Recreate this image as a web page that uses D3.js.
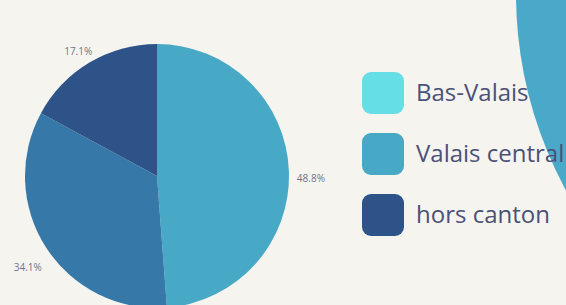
<!DOCTYPE html>
<html>
<head>
<meta charset="utf-8">
<script src="https://cdn.jsdelivr.net/npm/d3@7"></script>
<style>
  html, body { margin: 0; padding: 0; background: #f5f4ef; }
  svg { display: block; }
</style>
</head>
<body>
<svg id="chart" width="566" height="305"></svg>
<script>
// data
let sliceNames = ['Valais central', 'Bas-Valais', 'hors canton'];
let sliceValues = [48.8, 34.1, 17.1];
let sliceColors = ['#48a9c7', '#3679a9', '#2d5389'];

let legendNames = ['Bas-Valais', 'Valais central', 'hors canton'];
let legendColors = ['#66dee6', '#48a9c7', '#2d5389'];

let svg = d3.select('#chart');

// decorative circle top right
svg.append('circle')
    .attr('cx', 927)
    .attr('cy', -6)
    .attr('r', 411)
    .attr('fill', '#4aa9c8');

/*************************** PIE ***********************************/
let cx = 157, cy = 176, radius = 132;
let g = svg.append('g').attr('transform', `translate(${cx},${cy})`);

let pie = d3.pie().sort(null).value(d => d);
let arcs = pie(sliceValues);
let arc = d3.arc().innerRadius(0).outerRadius(radius);
let labelArc = d3.arc().innerRadius(154).outerRadius(154);

g.selectAll('path.slice')
    .data(arcs)
    .enter().append('path')
    .attr('class', 'slice')
    .attr('d', arc)
    .attr('fill', (d, i) => sliceColors[i]);

// labels sit a bit below the centroid
g.selectAll('text.pct')
    .data(arcs)
    .enter().append('text')
    .attr('class', 'pct')
    .attr('transform', d => {
        let c = labelArc.centroid(d);
        return `translate(${c[0]},${c[1] + 8})`;
    })
    .attr('text-anchor', 'middle')
    .attr('dy', '0.35em')
    .attr('font-family', 'Open Sans')
    .attr('font-size', 10)
    .attr('fill', '#70748a')
    .text(d => d.data.toFixed(1) + '%');

/*************************** LEGEND ***********************************/
let legend = svg.append('g').attr('transform', 'translate(362,72)');
let item = legend.selectAll('g.item')
    .data(legendNames)
    .enter().append('g')
    .attr('class', 'item')
    .attr('transform', (d, i) => `translate(0,${i * 61})`);

item.append('rect')
    .attr('width', 42)
    .attr('height', 42)
    .attr('rx', 9)
    .attr('fill', (d, i) => legendColors[i]);

item.append('text')
    .attr('x', 54)
    .attr('y', 29)
    .attr('font-family', 'Open Sans')
    .attr('font-size', 24)
    .attr('fill', '#4b5178')
    .text(d => d);
</script>
</body>
</html>
